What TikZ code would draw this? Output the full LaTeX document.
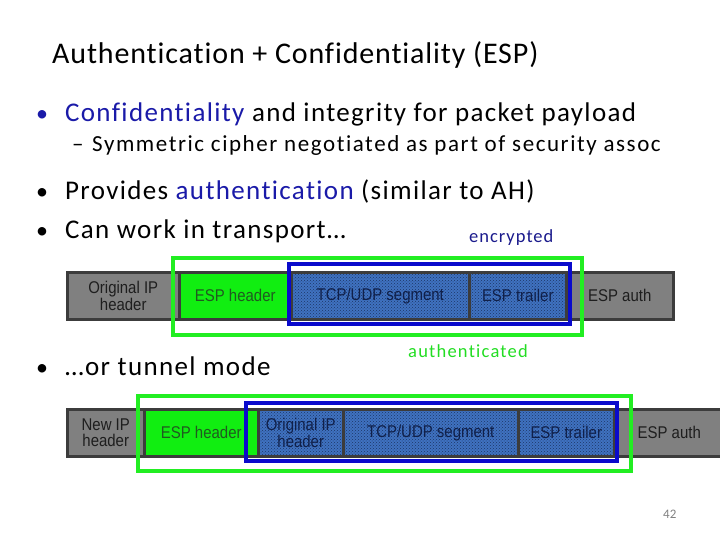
\documentclass[tikz,border=0pt]{standalone}
\usepackage{fontspec}
\setmainfont{Carlito}[Ligatures=NoCommon]
\newfontfamily\cellfont[FakeStretch=0.88]{Liberation Sans}
\usetikzlibrary{patterns}
\definecolor{barc}{HTML}{3C3C3C}
\definecolor{cgray}{HTML}{808080}
\definecolor{cgreen}{HTML}{11EE11}
\definecolor{cblue}{HTML}{3F72C0}
\definecolor{cdots}{HTML}{1E3566}
\definecolor{lgreen}{HTML}{22EE22}
\definecolor{lblue}{HTML}{0A0ACC}
\definecolor{tblue}{HTML}{1A1AA8}
\definecolor{tdblue}{HTML}{1A1A8C}
\definecolor{tgreen}{HTML}{22DD22}
\definecolor{celltxt}{HTML}{1E1E1E}
\definecolor{bluetxt}{HTML}{10204A}
\definecolor{greentxt}{HTML}{205A20}
\newcommand{\ls}[1]{\addfontfeatures{LetterSpace=#1}}
\tikzset{
  cellbox/.style={draw=barc, line width=2.5pt, anchor=north west, inner sep=0pt,
    font=\cellfont\fontsize{17}{16.5}\selectfont, align=center, minimum height=47pt},
  graycell/.style={cellbox, fill=cgray, text=celltxt},
  greencell/.style={cellbox, fill=cgreen, text=greentxt},
  bluecell/.style={cellbox, preaction={fill=cblue}, pattern=crosshatch dots, pattern color=cdots, text=bluetxt},
  greenframe/.style={draw=lgreen, line width=4pt},
  blueframe/.style={draw=lblue, line width=4pt},
  txt/.style={anchor=base west, inner sep=0pt},
  bodytxt/.style={txt, font=\fontsize{27}{31}\selectfont\ls{5.0}},
  bul/.style={anchor=base, inner sep=0pt, font=\fontsize{24}{28}\selectfont},
}
\begin{document}
\begin{tikzpicture}[x=1pt,y=-1pt]
\useasboundingbox (0,0) rectangle (720,540);
% title
\node[txt, font=\fontsize{30}{34}\selectfont\ls{2.9}] (title) at (52,64) {Authentication + Confidentiality (ESP)};
% bullets
\node[bul, text=tblue] (b1) at (42,122) {•};
\node[bodytxt] (l1) at (65,122) {\textcolor{tblue}{Confidentiality} and integrity for packet payload};
\node[txt, font=\fontsize{23}{26}\selectfont] (d2) at (72,152) {–};
\node[txt, font=\fontsize{23}{26}\selectfont\ls{6.8}] (l2) at (92,152) {Symmetric cipher negotiated as part of security assoc};
\node[bul] (b3) at (42,200) {•};
\node[bodytxt] (l3) at (65,200) {Provides \textcolor{tblue}{authentication} (similar to AH)};
\node[bul] (b4) at (42,239) {•};
\node[bodytxt] (l4) at (65,239) {Can work in transport…};
\node[txt, font=\fontsize{18.5}{22}\selectfont\ls{5.4}, text=tdblue] (enc) at (469,243) {encrypted};
\node[bul] (b5) at (42,375) {•};
\node[bodytxt] (l5) at (65,375) {…or tunnel mode};
\node[txt, font=\fontsize{18.5}{22}\selectfont\ls{6.6}, text=tgreen] (auth) at (408,357) {authenticated};
\node[txt, font=\fontsize{13}{15}\selectfont, text=cgray] (pg) at (663,518) {42};
% transport mode
\node[graycell, minimum width=112pt] (t1) at (66,271) {Original IP\\header};
\node[greencell, minimum width=112pt] (t2) at (178,271) {ESP header};
\node[bluecell, minimum width=178pt] (t3) at (290,271) {TCP/UDP segment};
\node[bluecell, minimum width=97pt] (t4) at (468,271) {ESP trailer};
\node[graycell, minimum width=107pt] (t5) at (565,271) {ESP auth};
\draw[greenframe] (173,258) rectangle (582,335);
\draw[blueframe] (289,264) rectangle (570,324);
% tunnel mode
\node[graycell, minimum width=77pt] (u1) at (66,408) {New IP\\header};
\node[greencell, minimum width=114pt] (u2) at (143,408) {ESP header};
\node[bluecell, minimum width=85pt] (u3) at (257,408) {Original IP\\header};
\node[bluecell, minimum width=175pt] (u4) at (342,408) {TCP/UDP segment};
\node[bluecell, minimum width=96pt] (u5) at (517,408) {ESP trailer};
\node[graycell, minimum width=110pt] (u6) at (613,408) {ESP auth};
\draw[greenframe] (138,396) rectangle (631,471);
\draw[blueframe] (246,403) rectangle (617,461);
\end{tikzpicture}
\end{document}
